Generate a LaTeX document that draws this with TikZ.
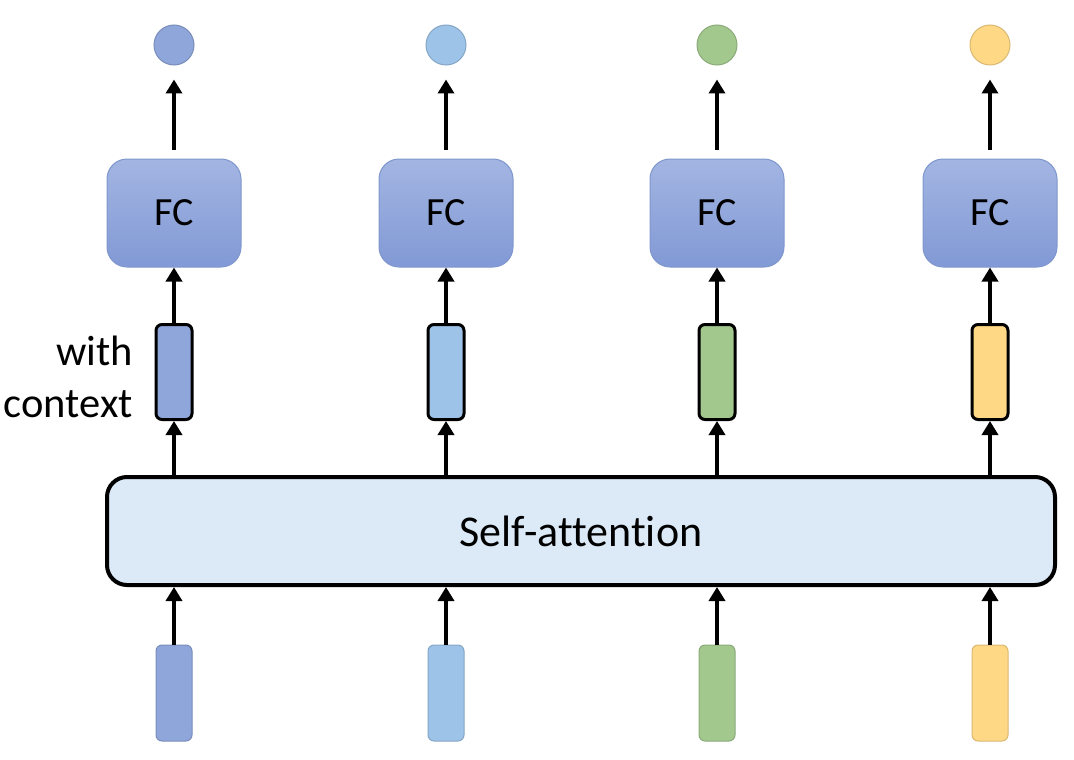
\documentclass[tikz,border=0pt]{standalone}
\usepackage{fontspec}
\setmainfont{Carlito}[Ligatures=NoCommon]
\usetikzlibrary{positioning, arrows.meta}
\definecolor{fctop}{HTML}{A3B5E2}
\definecolor{fcbot}{HTML}{8199D5}
\definecolor{fcline}{HTML}{7F96CC}
\definecolor{vblue}{HTML}{8FA6DB}
\definecolor{vsky}{HTML}{9DC3E8}
\definecolor{vgreen}{HTML}{A2C88E}
\definecolor{vyellow}{HTML}{FFD886}
\definecolor{attnfill}{HTML}{DCEAF8}
\tikzset{
  fcbox/.style={draw=fcline, line width=1pt, rounded corners=20pt, minimum width=134pt, minimum height=108pt, top color=fctop, bottom color=fcbot, font=\fontsize{40}{44}\selectfont},
  ctxvec/.style={draw=black, line width=3pt, rounded corners=6pt, minimum width=36pt, minimum height=95pt, inner sep=0pt},
  invec/.style={draw=#1!85!black, line width=1pt, fill=#1, rounded corners=6pt, minimum width=36pt, minimum height=96pt, inner sep=0pt},
  outdot/.style={circle, draw=#1!85!black, line width=1pt, fill=#1, minimum size=40pt, inner sep=0pt},
  attn/.style={draw=black, line width=4pt, rounded corners=20pt, fill=attnfill, minimum width=948pt, minimum height=108pt, font=\fontsize{44}{48}\selectfont},
  arr/.style={line width=4.5pt, -{Triangle[width=16pt,length=14pt]}},
}
\begin{document}
\begin{tikzpicture}[x=1pt, y=-1pt]
  \useasboundingbox (0,0) rectangle (1074,760);
  \node[attn] (sa) at (581,531) {Self-attention};
  \foreach \i/\x/\c in {1/174/vblue, 2/446/vsky, 3/717/vgreen, 4/990/vyellow} {
    \node[outdot=\c] (out\i) at (\x,45) {};
    \node[fcbox] (fc\i) at (\x,213) {FC};
    \node[ctxvec, fill=\c] (ctx\i) at (\x,372) {};
    \node[invec=\c] (in\i) at (\x,693) {};
    \draw[arr] (in\i.north) -- (in\i.north |- sa.south);
    \draw[arr] (ctx\i.south |- sa.north) -- (ctx\i.south);
    \draw[arr] (ctx\i.north) -- (ctx\i.north |- fc\i.south);
    \draw[arr, shorten <=9pt, shorten >=14pt] (fc\i.north) -- (out\i.south);
  }
  \node[left=18pt of ctx1, yshift=-5pt, align=right, font=\fontsize{42.5}{52}\selectfont] (ctxlabel) {with\\context};
\end{tikzpicture}
\end{document}
